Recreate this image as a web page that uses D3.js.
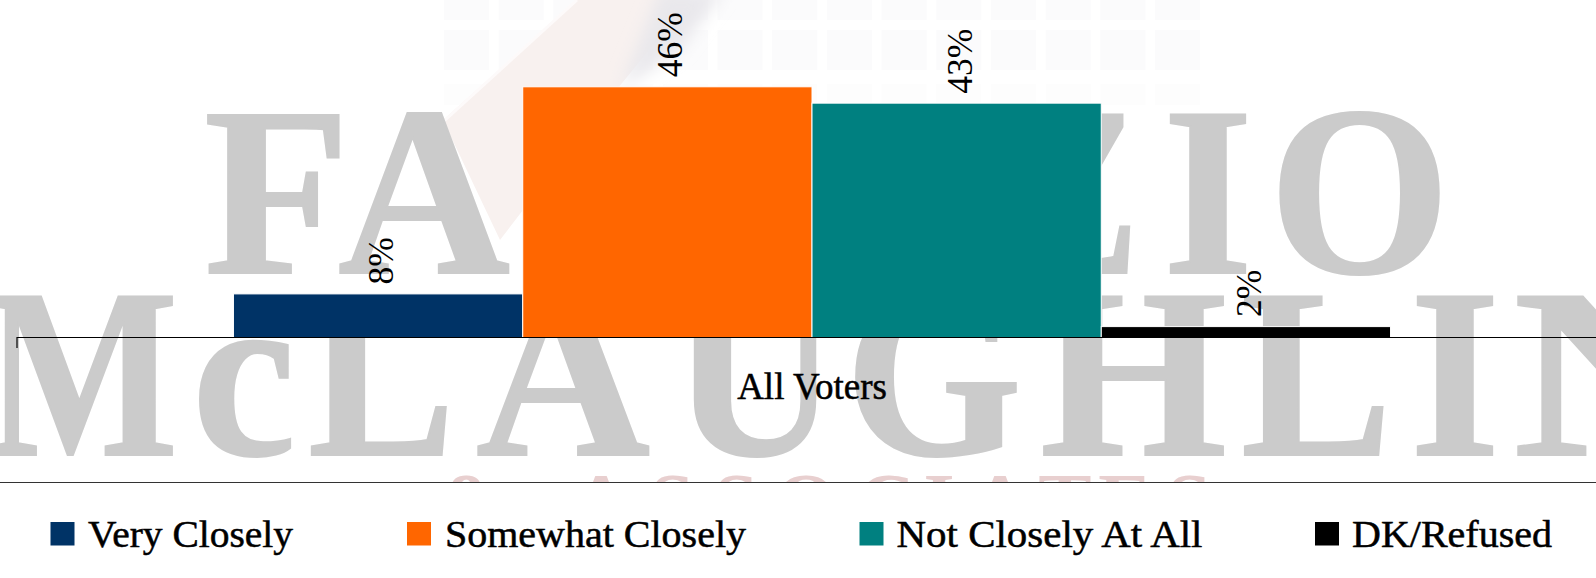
<!DOCTYPE html>
<html><head><meta charset="utf-8">
<script src="https://cdn.jsdelivr.net/npm/d3@7/dist/d3.min.js"></script>
<style>html,body{margin:0;padding:0;background:#fff;overflow:hidden}svg{display:block}text{font-family:"Liberation Serif",serif}</style>
</head><body><svg id="c" width="1596" height="578"></svg>
<script>
const categories = ["All Voters"];
const seriesNames = ["Very Closely","Somewhat Closely","Not Closely At All","DK/Refused"];
const seriesValues = [8,46,43,2];
const seriesColors = ["#003366","#ff6600","#008080","#000000"];
const legendSwatchX = [50.5,407,859.5,1315];
const legendTextX = [88,445,896.5,1352];
const legendTextW = [205,301,306,200];
const wmRow1 = [["F",204,350],["A",338,510],["B",530,700],["R",700,880],["I",890,985],["Z",1000,1140],["I",1163,1253],["O",1269,1450]];
const wmRow2 = [["M",-15,178],["c",192,296],["L",308,455],["A",476,650],["U",672,838],["G",845,1022],["H",1040,1227],["L",1241,1392],["I",1410,1500],["N",1513,1720]];
const wmRow3 = [["&",473],["A",601],["S",672],["S",736],["O",806],["C",886],["I",939],["A",1000],["T",1065],["E",1125],["S",1189]];

const svg = d3.select("#c");
const defs = svg.append("defs");
defs.append("clipPath").attr("id","plotClip").append("rect").attr("width",1596).attr("height",482);
defs.append("filter").attr("id","soft").append("feGaussianBlur").attr("stdDeviation",8);

// background watermark
const bg = svg.append("g").attr("clip-path","url(#plotClip)");
const gridCols = d3.range(14).map(i=>444+i*54.7), gridRows=[[0,20],[30,70],[84,105]];
gridRows.forEach((r,ri)=>gridCols.forEach(c=>{
  bg.append("rect").attr("x",c).attr("y",r[0]).attr("width",45).attr("height",r[1]-r[0]).attr("fill",ri==2?"#fdfdfd":"#fbfbfc");
}));
bg.append("polygon").attr("points","577,0 690,0 600,110 500,240 443,120").attr("fill","#f8f1ef");
bg.append("polygon").attr("points","660,-10 725,-10 680,50 620,90").attr("fill","#e9e8ec").attr("filter","url(#soft)");
bg.append("line").attr("x1",577).attr("y1",0).attr("x2",443).attr("y2",122).attr("stroke","#fdfafa").attr("stroke-width",3);
const wm = (row,base,size)=>row.forEach(([t,x0,x1])=>{
  bg.append("text").attr("x",x0).attr("y",base).attr("font-size",size).attr("font-weight","bold").attr("fill","#cbcbcb")
    .attr("stroke","#cbcbcb").attr("stroke-width",2)
    .attr("textLength",x1-x0).attr("lengthAdjust","spacingAndGlyphs").text(t);
});
wm(wmRow1,272.5,242); wm(wmRow2,455,242);
wmRow3.forEach(([t,x])=>bg.append("text").attr("x",x).attr("y",529).attr("text-anchor","middle").attr("font-size",80).attr("font-weight","bold").attr("fill","#e8cfcf").text(t));

// chart
const x0 = d3.scaleBand().domain(categories).range([16.5,1607.5]).paddingOuter(0.1875).paddingInner(0);
const x1 = d3.scaleBand().domain(seriesNames).range([x0(categories[0]),x0(categories[0])+x0.bandwidth()]);
const y = d3.scaleLinear().domain([0,60]).range([337.5,10.5]);

svg.append("g").selectAll("rect").data(seriesValues).join("rect")
  .attr("x",(d,i)=>x1(seriesNames[i])).attr("width",x1.bandwidth())
  .attr("y",d=>y(d)).attr("height",d=>y(0)-y(d))
  .attr("fill",(d,i)=>seriesColors[i]).attr("stroke","#fff").attr("stroke-width",1);

svg.append("g").selectAll("text").data(seriesValues).join("text")
  .attr("transform",(d,i)=>`translate(${x1(seriesNames[i])+x1.bandwidth()/2+15},${y(d)-9.5}) rotate(-90)`)
  .attr("font-size",35.5).attr("fill","#000").text(d=>d+"%");

const axis = d3.axisBottom(x0).tickSizeInner(0).tickSizeOuter(11).tickPadding(0);
const ax = svg.append("g").attr("transform","translate(0,337)").call(axis);
ax.select(".domain").attr("stroke","#000").attr("stroke-width",1.2);
ax.selectAll(".tick line").remove();
ax.selectAll(".tick text").attr("y",62).attr("dy",0).attr("font-size",37).attr("font-family","Liberation Serif").attr("fill","#000").attr("stroke","#000").attr("stroke-width",.5);

// legend
svg.append("rect").attr("y",482).attr("width",1596).attr("height",96).attr("fill","#fff");
svg.append("line").attr("x1",0).attr("x2",1596).attr("y1",482.5).attr("y2",482.5).attr("stroke","#333");
const lg = svg.append("g").selectAll("g").data(seriesNames).join("g");
lg.append("rect").attr("x",(d,i)=>legendSwatchX[i]).attr("y",522).attr("width",24).attr("height",23.5).attr("fill",(d,i)=>seriesColors[i]);
lg.append("text").attr("x",(d,i)=>legendTextX[i]).attr("y",547).attr("font-size",38).attr("fill","#000").attr("stroke","#000").attr("stroke-width",.5)
  .attr("textLength",(d,i)=>legendTextW[i]).attr("lengthAdjust","spacingAndGlyphs").text(d=>d);
</script></body></html>
